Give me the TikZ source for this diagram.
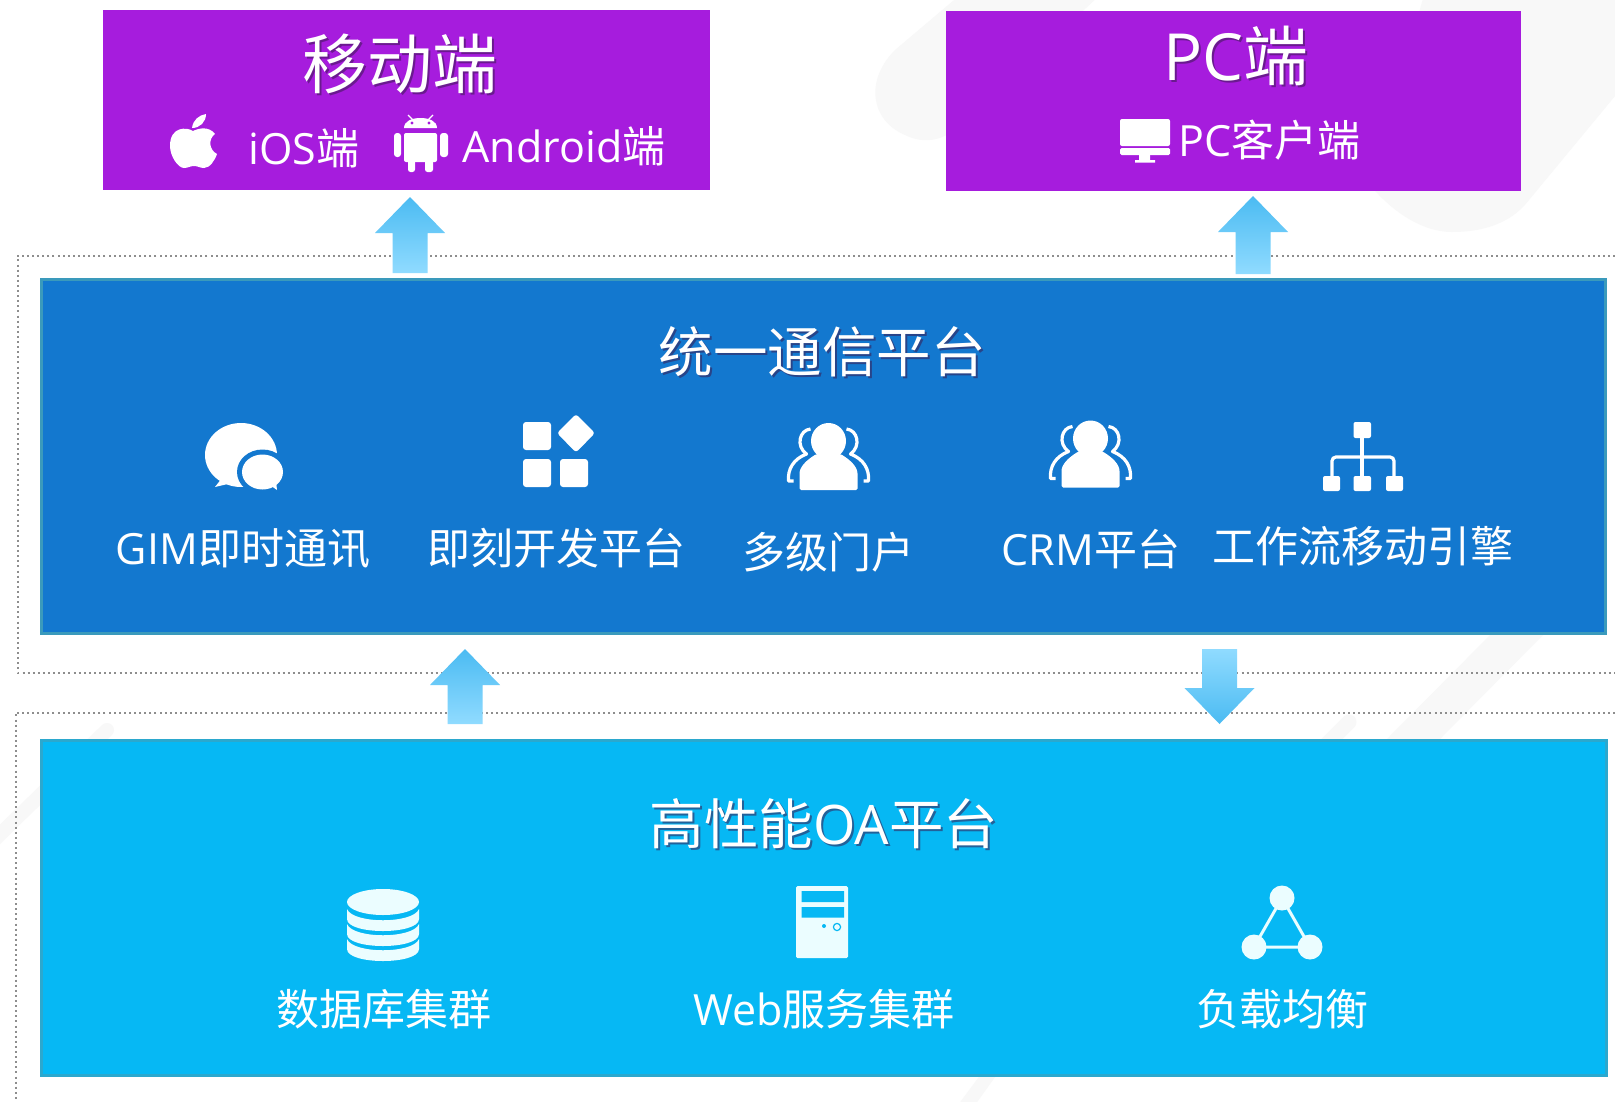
\documentclass[tikz,border=0pt]{standalone}
\usepackage{fontspec}
\setmainfont{Noto Sans CJK SC}
\newfontfamily\lat{Open Sans}
\usetikzlibrary{calc,shadings}
\definecolor{purplebox}{HTML}{A61CDD}
\definecolor{bluebox}{HTML}{1378CF}
\definecolor{blueedge}{HTML}{3A9ABC}
\definecolor{cyanbox}{HTML}{06B8F4}
\definecolor{cyanedge}{HTML}{2BA8CE}
\definecolor{arrowdark}{HTML}{4BBBF2}
\definecolor{arrowlight}{HTML}{90DBFF}
\definecolor{frameline}{HTML}{8E8E8E}
\definecolor{faint}{HTML}{F8F8F8}
\definecolor{iconpale}{HTML}{EBFDFF}
\definecolor{shadowdark}{HTML}{3A1A50}
\tikzset{
  panelbox/.style={inner sep=0pt,outer sep=0pt,anchor=north west},
  titletext/.style={text=white,font=\fontsize{#1}{#1}\selectfont,inner sep=0pt},
  itemtext/.style={text=white,font=\fontsize{#1}{#1}\selectfont,inner sep=0pt},
  framedots/.style={draw=frameline,line width=2pt,dash pattern=on 2pt off 3.1pt},
  backshape/.style={fill=faint},
  icon/.style={fill=white,draw=none},
  iconline/.style={draw=white,line width=3.2pt,fill=none},
}
% block arrow between two named coordinates; #3/#4: colours at top/bottom
\newcommand{\blockarrow}[4]{%
  \path let \p1=(#1),\p2=(#2),\n1={\y2>\y1 ? 1 : -1} in
   [top color=#3,bottom color=#4,draw=none]
   (\x1-17.5,\y1) -- (\x1-17.5,{\y2-\n1*36}) -- (\x1-35,{\y2-\n1*36}) -- (\x2,\y2)
   -- (\x1+35,{\y2-\n1*36}) -- (\x1+17.5,{\y2-\n1*36}) -- (\x1+17.5,\y1) -- cycle;}
\newcommand{\persongroup}[2]{%
  \begin{scope}[shift={(#1,#2)}]
    \fill[icon] (0,18) ellipse (17.5 and 18);
    \fill[icon,rounded corners=1.5pt] (-29,67) -- (-29,52) .. controls (-29,44) and (-22,37) .. (-12,31) -- (12,31) .. controls (22,37) and (29,44) .. (29,52) -- (29,67) -- cycle;
    \draw[iconline,line join=round] (-18,6) .. controls (-29,7) and (-33,23) .. (-22,31) .. controls (-35,36) and (-41,46) .. (-40,58) -- (-35,58);
    \draw[iconline,line join=round] (18,6) .. controls (29,7) and (33,23) .. (22,31) .. controls (35,36) and (41,46) .. (40,58) -- (35,58);
  \end{scope}}
\newcommand{\dblayer}[1]{%
  \fill[fill=iconpale] (347,#1) -- (347,#1+10) .. controls (347,#1+26) and (419,#1+26) .. (419,#1+10) -- (419,#1)
    .. controls (413,#1+15) and (353,#1+15) .. (347,#1) -- cycle;}
\begin{document}
\begin{tikzpicture}[x=1pt,y=-1pt]
\useasboundingbox (0,0) rectangle (1615,1101);
\fill[white] (0,0) rectangle (1615,1101);
% faint background shapes
\fill[backshape] (960,-5) -- (895,50) .. controls (865,80) and (870,120) .. (905,135) .. controls (925,145) and (945,140) .. (960,125) -- (1100,-5) -- cycle;
\fill[backshape] (1370,185) .. controls (1395,215) and (1425,232) .. (1452,232) .. controls (1480,232) and (1510,225) .. (1529,200) -- (1620,90) -- (1620,-5) -- (1424,-5) -- cycle;
\fill[backshape] (1543,635) -- (1490,635) -- (1387,739) -- (1440,739) -- cycle;
\draw[faint,line width=15pt,line cap=round] (1349,722) -- (1325,746);
\draw[faint,line width=14pt,line cap=round] (107,730) -- (-12,846);
\fill[backshape] (1003,1066) -- (987,1066) -- (958,1105) -- (975,1105) -- cycle;
% dotted frames
\draw[framedots] (1615,255.5) -- (17.5,255.5) -- (17.5,672.5) -- (1615,672.5);
\draw[framedots] (1615,712.5) -- (15.5,712.5) -- (15.5,1101);
% panels
\node[panelbox,fill=purplebox,minimum width=607pt,minimum height=180pt] (mobile) at (103,10) {};
\node[panelbox,fill=purplebox,minimum width=575pt,minimum height=180pt] (pc) at (946,11) {};
\node[panelbox,fill=bluebox,draw=blueedge,line width=3pt,minimum width=1564pt,minimum height=354pt] (uc) at (41.5,279.5) {};
\node[panelbox,fill=cyanbox,draw=cyanedge,line width=3pt,minimum width=1565pt,minimum height=334.5pt] (oa) at (41.5,740.5) {};
% arrows
\coordinate (a1s) at (410,273); \coordinate (a1e) at (410,197);
\coordinate (a2s) at (1253,274); \coordinate (a2e) at (1253,196);
\coordinate (a3s) at (465,724); \coordinate (a3e) at (465,649);
\coordinate (a4s) at (1219.5,649); \coordinate (a4e) at (1219.5,724);
\blockarrow{a1s}{a1e}{arrowdark}{arrowlight}
\blockarrow{a2s}{a2e}{arrowdark}{arrowlight}
\blockarrow{a3s}{a3e}{arrowdark}{arrowlight}
\blockarrow{a4s}{a4e}{arrowlight}{arrowdark}
% titles (with soft shadow)
\newcommand{\shadowed}[5]{%
  \node[titletext=#3,text=shadowdark,opacity=.55] (#1s) at ($(#4,#5)+(2,2)$) {#2};
  \node[titletext=#3] (#1) at (#4,#5) {#2};}
\shadowed{tmobile}{移动端}{65}{400}{64}
\shadowed{tpc}{{\lat P}{\lat C}端}{65}{1236}{56}
\shadowed{tuc}{统一通信平台}{54.5}{822}{352}
\shadowed{toa}{高性能{\lat OA}平台}{54.5}{824}{824}
% item labels
\node[itemtext=43] (ios) at (304,148) {{\lat iOS}端};
\node[itemtext=43] (android) at (564,146) {{\lat Android}端};
\node[itemtext=43] (pcclient) at (1269.5,140) {{\lat PC}客户端};
\node[itemtext=43] (gim) at (243,549) {{\lat GIM}即时通讯};
\node[itemtext=43] (dev) at (556,548) {即刻开发平台};
\node[itemtext=43] (portal) at (828,552) {多级门户};
\node[itemtext=43] (crm) at (1091,549) {{\lat CRM}平台};
\node[itemtext=43] (flow) at (1363,546) {工作流移动引擎};
\node[itemtext=43] (db) at (384,1009) {数据库集群};
\node[itemtext=43] (web) at (824,1009) {{\lat Web}服务集群};
\node[itemtext=43] (lb) at (1282,1009) {负载均衡};
% apple
\fill[icon] (193,131) .. controls (187,127) and (170,126) .. (170,146) .. controls (170,156) and (178,168) .. (184,168) .. controls (188,168) and (190,166) .. (194,166) .. controls (198,166) and (200,168) .. (204,168) .. controls (210,168) and (215,160) .. (217,154) .. controls (209,150) and (208,139) .. (215,134) .. controls (209,126) and (199,128) .. (193,131) -- cycle;
\fill[icon] (192,128) .. controls (193,120) and (199,115) .. (206,114) .. controls (206,122) and (200,128) .. (192,128) -- cycle;
% android
\fill[icon] (404,128) .. controls (404,121) and (412,118) .. (420.5,118) .. controls (429,118) and (437,121) .. (437,128) -- cycle;
\draw[white,line width=1.3pt] (413,120) -- (408,115) (428,120) -- (433,115);
\fill[purplebox] (412,123) circle (1.6) (429,123) circle (1.6);
\fill[icon,rounded corners=2pt] (404,133) rectangle (437,162);
\fill[icon,rounded corners=3pt] (394,133) rectangle (401,157) (440,133) rectangle (448,157);
\fill[icon,rounded corners=2.5pt] (408,155) rectangle (415,172) (425,155) rectangle (433,172);
% monitor
\fill[icon,rounded corners=2pt] (1120,119) -- (1170,119) -- (1170,146) -- (1120,146) -- cycle;
\fill[icon,rounded corners=1.5pt] (1120,148) -- (1170,148) -- (1170,155) -- (1120,155) -- cycle;
\fill[icon] (1139,155) rectangle (1150,160) (1135,160) rectangle (1155,162.5);
% chat
\fill[icon] (241,455) ellipse (36 and 32);
\fill[icon] (222,478) -- (215,487) -- (232,483) -- cycle;
\fill[bluebox] (262.5,472) ellipse (25.5 and 22.5);
\fill[icon] (262.5,472) ellipse (20.5 and 17.5);
\fill[icon] (270,485) -- (277,490) -- (276,481) -- cycle;
% grid
\fill[icon,rounded corners=3pt] (523,422) rectangle (551,450) (523,459) rectangle (551,487) (560,459) rectangle (588,487);
\fill[icon,rounded corners=3pt] (576,414) -- (595,433) -- (576,452.5) -- (557,433) -- cycle;
% people
\persongroup{828.5}{423}
\persongroup{1090.5}{420.5}
% org tree
\fill[icon,rounded corners=2pt] (1353.5,422) rectangle (1371,438) (1323,476) rectangle (1340,491) (1353.5,476) rectangle (1371,491) (1386,476) rectangle (1403,491);
\draw[iconline] (1362,438) -- (1362,476);
\draw[iconline,rounded corners=4pt] (1332,476) -- (1332,457) -- (1394,457) -- (1394,476);
% database
\fill[fill=iconpale] (383,902) ellipse (36 and 13);
\dblayer{909}
\dblayer{924}
\dblayer{939}
% server
\fill[fill=iconpale,rounded corners=1.5pt] (796,886) rectangle (848,958);
\fill[cyanbox] (801.5,891) rectangle (844,902) (801.5,907) rectangle (844,917.5);
\fill[cyanbox] (824,926) circle (2);
\draw[cyanbox,line width=1.2pt] (837,927) circle (3.6);
% triangle
\draw[draw=iconpale,line width=3pt] (1282,898) -- (1254,947) -- (1310,947) -- cycle;
\fill[fill=iconpale] (1282,898) circle (12.5) (1254,947) circle (12.5) (1310,947) circle (12.5);
\end{tikzpicture}
\end{document}
